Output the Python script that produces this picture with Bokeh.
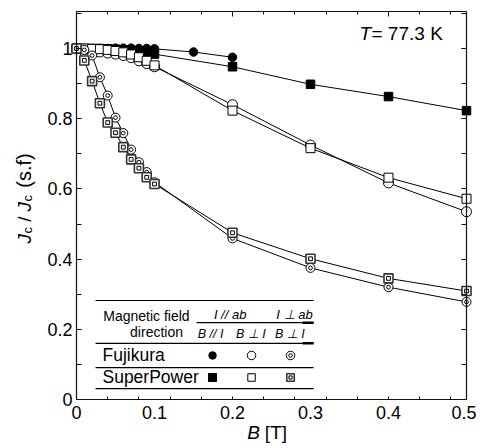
from math import pi
from bokeh.plotting import figure
from bokeh.models import (Range1d, LinearAxis, FixedTicker, Label,
                          NumeralTickFormatter, CustomJSTickFormatter)
from bokeh.embed import file_html
from bokeh.resources import INLINE

# ---------------- data ----------------
B_fine = [0.00, 0.01, 0.02, 0.03, 0.04, 0.05, 0.06, 0.07, 0.08, 0.09, 0.10]
B_fuji_par = B_fine + [0.15, 0.20]
J_fuji_par = [1.000, 1.000, 1.000, 1.000, 1.000, 1.001, 1.001, 1.001, 1.000,
              1.000, 0.999, 0.990, 0.975]

B_high = B_fine + [0.20, 0.30, 0.40, 0.50]
J_sp_par = [1.000, 1.000, 1.000, 1.000, 0.999, 0.998, 0.996, 0.993, 0.990,
            0.987, 0.984, 0.948, 0.898, 0.863, 0.823]
J_fuji_perp = [1.000, 0.997, 0.994, 0.990, 0.987, 0.984, 0.980, 0.974, 0.965,
               0.957, 0.948, 0.840, 0.725, 0.617, 0.535]
J_sp_perp = [1.000, 1.000, 0.999, 0.998, 0.996, 0.993, 0.989, 0.983, 0.975,
             0.965, 0.952, 0.823, 0.716, 0.632, 0.572]
J_fuji_ab = [1.000, 0.996, 0.980, 0.918, 0.866, 0.803, 0.759, 0.712, 0.676,
             0.648, 0.619, 0.459, 0.375, 0.320, 0.278]
J_sp_ab = [1.000, 0.966, 0.907, 0.844, 0.789, 0.760, 0.719, 0.684, 0.659,
           0.633, 0.614, 0.475, 0.401, 0.345, 0.309]

x_labels = [0.0, 0.1, 0.2, 0.3, 0.4, 0.5]
x_minor = [round(0.04 * k, 2) for k in range(13)]
x_major_top = [0.2, 0.4]
y_labels = [0.0, 0.2, 0.4, 0.6, 0.8, 1.0]
y_minor = [round(0.1 * k, 1) for k in range(12)]
X_MIN, X_MAX = 0.0, 0.5
Y_MIN, Y_MAX = 0.0, 1.105

# ---------------- figure ----------------
# The frame covers the whole canvas; the axes are pinned to the data box,
# so the axis titles (drawn as labels) stay inside the frame and are not clipped.
W, H = 476, 446
PX_X0, PX_X1 = 76.0, 466.0      # canvas px of x = 0 and x = 0.5
PX_Y0, PX_Y1 = 399.0, 48.0      # canvas px of y = 0 and y = 1
sx = (PX_X1 - PX_X0) / 0.5
sy = (PX_Y0 - PX_Y1) / 1.0
xr = Range1d(-PX_X0 / sx, (W - PX_X0) / sx)
yr = Range1d(-(H - PX_Y0) / sy, PX_Y0 / sy)

FONT = "Liberation Sans"
p = figure(width=W, height=H, x_range=xr, y_range=yr,
           output_backend="svg", toolbar_location=None,
           min_border_left=0, min_border_right=0, min_border_top=0,
           min_border_bottom=0, x_axis_location=None, y_axis_location=None)
p.grid.visible = False
p.outline_line_color = None
p.background_fill_color = "white"
p.border_fill_color = "white"

def style_axis(ax):
    ax.axis_line_color = "#111111"
    ax.axis_line_width = 1.2
    ax.major_tick_line_color = "#111111"
    ax.minor_tick_line_color = "#111111"
    ax.major_tick_out = 0
    ax.minor_tick_out = 0
    ax.major_label_text_font = FONT
    ax.major_label_text_font_size = "18px"
    ax.major_label_text_color = "black"

blank = CustomJSTickFormatter(code="return ''")

bottom = LinearAxis(ticker=FixedTicker(ticks=x_labels, minor_ticks=x_minor),
                    formatter=NumeralTickFormatter(format="0.[0]"),
                    fixed_location=Y_MIN, bounds=(X_MIN, X_MAX))
style_axis(bottom)
bottom.major_tick_in = 0
bottom.minor_tick_in = 3
bottom.major_label_standoff = 6
p.add_layout(bottom, "below")

left = LinearAxis(ticker=FixedTicker(ticks=y_labels, minor_ticks=y_minor),
                  formatter=NumeralTickFormatter(format="0.[0]"),
                  fixed_location=X_MIN, bounds=(Y_MIN, Y_MAX))
style_axis(left)
left.major_tick_in = 5
left.minor_tick_in = 5
left.major_label_standoff = 4
p.add_layout(left, "left")

top = LinearAxis(ticker=FixedTicker(ticks=x_major_top, minor_ticks=x_minor),
                 formatter=blank, fixed_location=Y_MAX, bounds=(X_MIN, X_MAX))
style_axis(top)
top.major_tick_in = 5
top.minor_tick_in = 3
top.major_label_text_font_size = "0px"
top.major_label_standoff = 0
p.add_layout(top, "above")

right = LinearAxis(ticker=FixedTicker(ticks=y_labels, minor_ticks=y_minor),
                   formatter=blank, fixed_location=X_MAX, bounds=(Y_MIN, Y_MAX))
style_axis(right)
right.major_tick_in = 5
right.minor_tick_in = 5
right.major_label_text_font_size = "0px"
right.major_label_standoff = 0
p.add_layout(right, "right")

# ---------------- series ----------------
LW = 1.0
for xs, ys in [(B_fuji_par, J_fuji_par), (B_high, J_sp_par), (B_high, J_fuji_perp),
               (B_high, J_sp_perp), (B_high, J_fuji_ab), (B_high, J_sp_ab)]:
    p.line(xs, ys, line_color="black", line_width=LW)

def ring_circle(xs, ys, size=9):
    p.scatter(xs, ys, marker="circle", size=size, fill_color="white",
              line_color="black", line_width=1)
    p.scatter(xs, ys, marker="circle", size=size * 0.42, fill_color="white",
              line_color="black", line_width=1)

def ring_square(xs, ys, size=9):
    p.scatter(xs, ys, marker="square", size=size, fill_color="white",
              line_color="#333333", line_width=1.6)
    p.scatter(xs, ys, marker="square", size=size * 0.42, fill_color="white",
              line_color="black", line_width=1)

p.scatter(B_fuji_par, J_fuji_par, marker="circle", size=8.5, fill_color="black",
          line_color="black")
p.scatter(B_high, J_sp_par, marker="square", size=8.5, fill_color="black",
          line_color="black")
p.scatter(B_high, J_fuji_perp, marker="circle", size=10, fill_color="white",
          line_color="black", line_width=1)
p.scatter(B_high, J_sp_perp, marker="square", size=9, fill_color="white",
          line_color="black", line_width=1)
ring_circle(B_high, J_fuji_ab)
ring_square(B_high, J_sp_ab)

# ---------------- text helpers ----------------
def lab(x, y, text, size, style="normal", align="left", angle=0.0):
    p.add_layout(Label(x=x, y=y, text=text, text_font=FONT, text_font_size=size,
                       text_font_style=style, text_align=align,
                       text_baseline="middle", text_color="black", angle=angle))

# axis titles
lab(0.219, -0.0954, "B", "19px", "italic")
lab(0.2415, -0.0954, "[T]", "19px")

lab(-0.0667, 0.4444, "J", "19px", "italic", angle=pi / 2)
lab(-0.0628, 0.4729, "c", "13px", angle=pi / 2)
lab(-0.0667, 0.5142, "/", "19px", align="center", angle=pi / 2)
lab(-0.0667, 0.5356, "J", "19px", "italic", angle=pi / 2)
lab(-0.0628, 0.5641, "c", "13px", angle=pi / 2)
lab(-0.0667, 0.6525, "(s.f)", "20px", align="center", angle=pi / 2)

lab(0.3628, 1.0427, "T", "19px", "italic")
lab(0.3782, 1.0427, "= 77.3 K", "19px")

# ---------------- legend table ----------------
rule_x0 = [0.0244, 0.154, 0.0244, 0.0244, 0.0244]
rule_x1 = [0.304, 0.304, 0.304, 0.304, 0.304]
rule_y = [0.282, 0.219, 0.160, 0.091, 0.031]
p.segment(rule_x0, rule_y, rule_x1, rule_y, line_color="black", line_width=1.2)
p.segment([0.290, 0.290], [0.219, 0.160], [0.304, 0.304], [0.219, 0.160],
          line_color="black", line_width=2.5)

lab(0.0897, 0.239, "Magnetic field", "14px", align="center")
lab(0.1026, 0.191, "direction", "14px", align="center")
lab(0.197, 0.243, "I // ab", "13px", "italic", align="center")
lab(0.2795, 0.243, "I \u22a5 ab", "13px", "italic", align="center")
lab(0.172, 0.188, "B // I", "12.5px", "italic", align="center")
lab(0.2235, 0.188, "B \u22a5 I", "12.5px", "italic", align="center")
lab(0.2735, 0.188, "B \u22a5 I", "12.5px", "italic", align="center")
lab(0.0333, 0.1254, "Fujikura", "17.5px")
lab(0.0333, 0.0627, "SuperPower", "17.5px")

col_x = [0.1744, 0.2244, 0.2744]
row_y = [0.1254, 0.0627]
p.scatter([col_x[0]], [row_y[0]], marker="circle", size=7.5, fill_color="black",
          line_color="black")
p.scatter([col_x[1]], [row_y[0]], marker="circle", size=8.5, fill_color="white",
          line_color="black", line_width=1)
ring_circle([col_x[2]], [row_y[0]], size=8.5)
p.scatter([col_x[0]], [row_y[1]], marker="square", size=8, fill_color="black",
          line_color="black")
p.scatter([col_x[1]], [row_y[1]], marker="square", size=7.5, fill_color="white",
          line_color="black", line_width=1)
ring_square([col_x[2]], [row_y[1]], size=7.5)

open("out.html", "w").write(file_html(p, INLINE))
